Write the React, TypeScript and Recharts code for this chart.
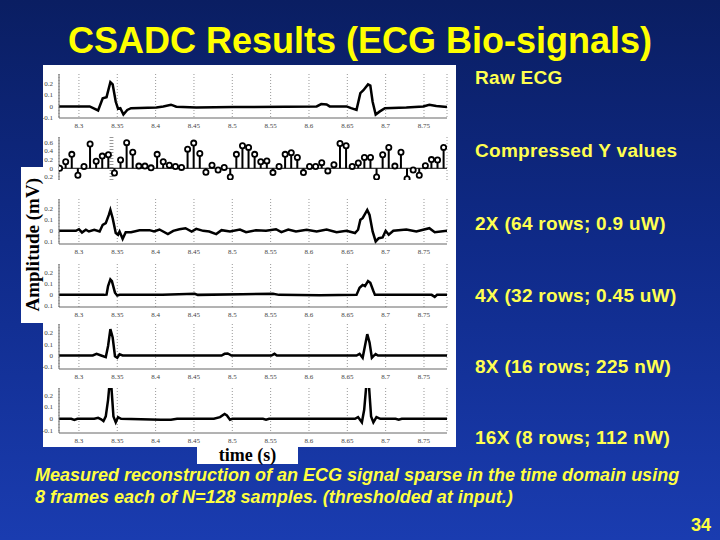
import {
  LineChart,
  ComposedChart,
  Line,
  Bar,
  XAxis,
  YAxis,
  CartesianGrid,
  ReferenceLine,
} from 'recharts'

// time axis shared by all panels
const timeTicks = [8.3, 8.35, 8.4, 8.45, 8.5, 8.55, 8.6, 8.65, 8.7, 8.75]
const timeDomain = [8.274, 8.78]
const ecgTicks = [-0.1, 0, 0.1, 0.2]
const stemTicks = [-0.2, 0, 0.2, 0.4, 0.6]

// [time, mV]
const rawEcg: [number, number][] = [
  [8.274, 0], [8.314, 0], [8.325, -0.035], [8.331, 0.07], [8.336, 0.08], [8.341, 0.21],
  [8.344, 0.19], [8.348, 0.04], [8.351, -0.02], [8.354, -0.015], [8.358, -0.07], [8.363, -0.03],
  [8.368, -0.015], [8.401, -0.01], [8.41, 0], [8.42, 0.015], [8.427, -0.003], [8.453, -0.01],
  [8.501, -0.006], [8.61, 0], [8.616, 0.02], [8.623, 0.017], [8.627, 0], [8.649, 0],
  [8.655, -0.015], [8.662, -0.03], [8.667, 0.115], [8.671, 0.14], [8.677, 0.19], [8.68, 0.18],
  [8.683, 0.04], [8.687, -0.07], [8.692, -0.045], [8.699, -0.015], [8.727, -0.01], [8.749, 0],
  [8.757, 0.015], [8.766, 0.003], [8.78, -0.006],
]

// compressed measurements (64 rows)
const compressedY = [
  0, 0.15, 0.32, -0.16, 0.04, 0.56, 0.16, 0.28, 0.31, -0.11, 0.19, 0.59, 0.37, 0.05, 0.05, 0.01,
  0.32, 0.15, 0.07, 0.04, 0.02, 0.44, 0.58, 0.34, -0.09, 0.07, -0.04, 0.02, -0.2, 0.32, 0.52, 0.48,
  0.32, 0.15, 0.17, -0.1, 0.04, 0.32, 0.36, 0.25, -0.1, 0.04, 0.04, 0.13, -0.06, 0.08, 0.57, 0.52,
  0.04, 0.12, 0.25, 0.25, -0.2, 0.31, 0.48, 0.05, 0.37, -0.24, -0.04, -0.16, 0.06, 0.2, 0.19, 0.48,
]

const recon2x: [number, number][] = [
  [8.274, 0], [8.296, 0], [8.3, 0.015], [8.304, -0.015], [8.309, 0.01], [8.313, -0.006],
  [8.32, 0.01], [8.327, -0.006], [8.331, 0.055], [8.335, 0.07], [8.339, 0.145], [8.341, 0.19],
  [8.344, 0.115], [8.348, -0.02], [8.351, -0.036], [8.353, -0.006], [8.357, -0.073], [8.361, -0.012],
  [8.368, -0.012], [8.379, 0.006], [8.392, 0.006], [8.398, -0.006], [8.405, 0.012], [8.416, -0.03],
  [8.423, 0], [8.431, 0.015], [8.439, 0.024], [8.447, -0.006], [8.453, 0.018], [8.462, 0],
  [8.47, -0.006], [8.479, -0.03], [8.486, 0.006], [8.497, -0.006], [8.51, 0.012], [8.518, -0.012],
  [8.531, 0.006], [8.544, 0], [8.557, 0.015], [8.564, -0.012], [8.573, 0.012], [8.583, -0.006],
  [8.597, 0.01], [8.61, -0.006], [8.623, 0.012], [8.636, -0.012], [8.649, 0], [8.66, -0.02],
  [8.664, 0.01], [8.667, 0.1], [8.67, 0.115], [8.676, 0.19], [8.679, 0.145], [8.683, -0.006],
  [8.687, -0.097], [8.691, -0.067], [8.696, -0.06], [8.7, 0], [8.704, -0.036], [8.71, 0],
  [8.727, 0.012], [8.74, -0.006], [8.757, 0.024], [8.764, -0.012], [8.78, 0],
]

const recon4x: [number, number][] = [
  [8.274, 0], [8.333, 0], [8.336, 0.002], [8.338, 0.08], [8.341, 0.14], [8.343, 0.125],
  [8.347, 0.02], [8.35, -0.006], [8.353, 0], [8.409, 0], [8.451, 0.01], [8.455, 0],
  [8.513, 0.006], [8.553, 0.01], [8.561, 0], [8.614, -0.003], [8.662, 0], [8.666, 0.065],
  [8.67, 0.09], [8.673, 0.08], [8.677, 0.125], [8.68, 0.11], [8.684, 0.035], [8.686, 0],
  [8.76, 0], [8.764, -0.018], [8.767, 0], [8.78, 0],
]

const recon8x: [number, number][] = [
  [8.274, 0], [8.318, 0], [8.323, 0.015], [8.329, 0], [8.335, -0.015], [8.338, 0.085],
  [8.341, 0.235], [8.344, 0.16], [8.347, -0.006], [8.35, -0.02], [8.353, 0.01], [8.357, 0],
  [8.486, 0], [8.49, 0.015], [8.494, 0.018], [8.499, 0], [8.551, 0], [8.555, 0.015],
  [8.558, 0], [8.662, 0], [8.666, 0.015], [8.67, -0.02], [8.673, 0.085], [8.676, 0.19],
  [8.679, 0.115], [8.682, -0.02], [8.684, -0.006], [8.687, 0.012], [8.69, 0], [8.78, 0],
]

const recon16x: [number, number][] = [
  [8.274, 0], [8.29, 0], [8.294, -0.01], [8.298, 0], [8.32, 0], [8.325, 0.008],
  [8.329, -0.005], [8.332, -0.02], [8.335, 0.02], [8.338, 0.16], [8.34, 0.3], [8.342, 0.3],
  [8.345, 0.02], [8.348, -0.03], [8.351, 0.014], [8.355, 0], [8.407, -0.008], [8.42, -0.008],
  [8.428, 0], [8.476, 0], [8.484, 0.014], [8.49, 0.04], [8.493, 0.028], [8.497, -0.008],
  [8.5, 0], [8.54, 0], [8.544, -0.008], [8.548, 0], [8.66, 0], [8.664, 0.014],
  [8.669, -0.03], [8.672, 0.076], [8.675, 0.3], [8.678, 0.3], [8.681, 0.02], [8.684, -0.03],
  [8.688, 0.014], [8.693, 0], [8.713, 0], [8.717, -0.008], [8.721, 0], [8.78, 0],
]

const sideLabels = [
  { text: 'Raw ECG', y: 78 },
  { text: 'Compressed Y values', y: 151 },
  { text: '2X (64 rows; 0.9 uW)', y: 224 },
  { text: '4X (32 rows; 0.45 uW)', y: 296 },
  { text: '8X (16 rows; 225 nW)', y: 367 },
  { text: '16X (8 rows; 112 nW)', y: 438 },
]

const tickStyle = { fontSize: 7, fill: '#444', fontFamily: 'Liberation Serif' }
const boxStroke = { stroke: '#666', strokeWidth: 1 }

interface PanelProps {
  top: number
  height: number
  data: [number, number][]
  yDomain: number[]
}

// svg starts at x=38, plot spans 59..447
function EcgPanel({ top, height, data, yDomain }: PanelProps) {
  const rows = data.map(([t, v]) => ({ t, v }))
  return (
    <div style={{ position: 'absolute', left: 38, top: top - 1 }}>
      <LineChart width={418} height={height + 15} data={rows} margin={{ top: 1, right: 9, left: 0, bottom: 0 }}>
        <CartesianGrid horizontal={false} stroke="#999" strokeDasharray="1 2" />
        <XAxis
          dataKey="t"
          type="number"
          domain={timeDomain}
          ticks={timeTicks}
          interval={0}
          allowDataOverflow
          height={14}
          tick={tickStyle}
          tickLine={false}
          tickSize={4}
          tickMargin={1}
          axisLine={boxStroke}
        />
        <XAxis xAxisId="top" orientation="top" type="number" domain={timeDomain} height={0} tick={false} tickLine={false} axisLine={boxStroke} />
        <YAxis
          type="number"
          domain={yDomain}
          ticks={ecgTicks}
          interval={0}
          allowDataOverflow
          width={21}
          tick={tickStyle}
          tickLine={false}
          tickSize={4}
          tickMargin={2}
          axisLine={boxStroke}
        />
        <YAxis yAxisId="right" orientation="right" width={0} tick={false} tickLine={false} axisLine={boxStroke} />
        <Line dataKey="v" type="linear" stroke="#000" strokeWidth={2.5} dot={false} isAnimationActive={false} />
      </LineChart>
    </div>
  )
}

function StemPanel({ top, height }: { top: number; height: number }) {
  const rows = compressedY.map((v, i) => ({ i, v }))
  return (
    <div style={{ position: 'absolute', left: 38, top: top - 1 }}>
      <ComposedChart width={418} height={height + 15} data={rows} margin={{ top: 1, right: 9, left: 0, bottom: 0 }}>
        <CartesianGrid xAxisId="t" horizontal={false} stroke="#999" strokeDasharray="1 2" />
        <XAxis xAxisId="idx" dataKey="i" type="number" domain={[-0.1, 63.55]} allowDataOverflow hide />
        <XAxis
          xAxisId="t"
          type="number"
          domain={timeDomain}
          ticks={timeTicks}
          interval={0}
          allowDataOverflow
          height={14}
          tick={tickStyle}
          tickLine={false}
          tickSize={4}
          tickMargin={1}
          axisLine={boxStroke}
        />
        <XAxis xAxisId="top" orientation="top" type="number" domain={timeDomain} height={0} tick={false} tickLine={false} axisLine={boxStroke} />
        <YAxis
          type="number"
          domain={[-0.27, 0.72]}
          ticks={stemTicks}
          interval={0}
          allowDataOverflow
          width={21}
          tick={tickStyle}
          tickLine={false}
          tickSize={4}
          tickMargin={2}
          axisLine={boxStroke}
        />
        <YAxis yAxisId="right" orientation="right" width={0} tick={false} tickLine={false} axisLine={boxStroke} />
        <ReferenceLine xAxisId="idx" y={0} stroke="#000" strokeWidth={1} />
        <Bar xAxisId="idx" dataKey="v" barSize={2} fill="#000" isAnimationActive={false} />
        <Line
          xAxisId="idx"
          dataKey="v"
          stroke="none"
          dot={{ r: 2.6, fill: '#fff', stroke: '#000', strokeWidth: 1.8 }}
          isAnimationActive={false}
        />
      </ComposedChart>
    </div>
  )
}

export default function App() {
  return (
    <div
      style={{
        position: 'absolute',
        left: 0,
        top: 0,
        width: 720,
        height: 540,
        overflow: 'hidden',
        background: 'linear-gradient(180deg, #0a1e62 0%, #0f2a88 45%, #1a3cb0 100%)',
        fontFamily: 'Liberation Sans, Arial, sans-serif',
      }}
    >
      <div
        style={{
          position: 'absolute',
          left: 0,
          width: 720,
          top: 19,
          textAlign: 'center',
          color: '#ffff00',
          fontWeight: 'bold',
          fontSize: 36,
          lineHeight: '44px',
        }}
      >
        CSADC Results (ECG Bio-signals)
      </div>

      <div style={{ position: 'absolute', left: 43, top: 65, width: 413, height: 382, background: '#fff' }} />

      <EcgPanel top={74} height={44} data={rawEcg} yDomain={[-0.1, 0.28]} />
      <StemPanel top={137} height={43} />
      <EcgPanel top={199} height={45} data={recon2x} yDomain={[-0.12, 0.29]} />
      <EcgPanel top={264} height={43} data={recon4x} yDomain={[-0.11, 0.28]} />
      <EcgPanel top={324} height={45} data={recon8x} yDomain={[-0.12, 0.28]} />
      <EcgPanel top={388} height={45} data={recon16x} yDomain={[-0.12, 0.26]} />

      <div
        style={{
          position: 'absolute',
          left: 21,
          top: 167,
          width: 23,
          height: 156,
          background: '#fff',
          display: 'flex',
          alignItems: 'center',
          justifyContent: 'center',
        }}
      >
        <div
          style={{
            writingMode: 'vertical-rl',
            transform: 'rotate(180deg)',
            whiteSpace: 'nowrap',
            fontFamily: 'Liberation Serif, serif',
            fontWeight: 'bold',
            fontSize: 19,
            lineHeight: '20px',
            color: '#000',
          }}
        >
          Amplitude (mV)
        </div>
      </div>

      <div
        style={{
          position: 'absolute',
          left: 197,
          top: 447,
          width: 101,
          height: 17,
          background: '#fff',
          textAlign: 'center',
          fontFamily: 'Liberation Serif, serif',
          fontWeight: 'bold',
          fontSize: 18,
          lineHeight: '17px',
          color: '#000',
        }}
      >
        time (s)
      </div>

      {sideLabels.map((l) => (
        <div
          key={l.text}
          style={{
            position: 'absolute',
            left: 475,
            top: l.y - 11,
            lineHeight: '22px',
            fontSize: 19,
            fontWeight: 'bold',
            color: '#ffff50',
            letterSpacing: 0.3,
            whiteSpace: 'nowrap',
          }}
        >
          {l.text}
        </div>
      ))}

      <div
        style={{
          position: 'absolute',
          left: 35,
          top: 464,
          fontSize: 18,
          lineHeight: '22px',
          fontWeight: 'bold',
          fontStyle: 'italic',
          color: '#ffff40',
          whiteSpace: 'nowrap',
        }}
      >
        Measured reconstruction of an ECG signal sparse in the time domain using
        <br />8 frames each of N=128 samples. (thresholded at input.)
      </div>

      <div
        style={{
          position: 'absolute',
          left: 691,
          top: 515,
          fontSize: 18,
          fontWeight: 'bold',
          color: '#ffff40',
        }}
      >
        34
      </div>
    </div>
  )
}
